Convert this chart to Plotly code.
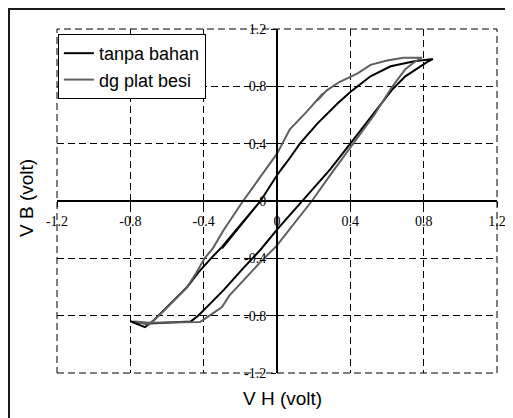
import plotly.graph_objects as go

# ---- data ----
tanpa_h = [0.04, 0.0, -0.09, -0.22, -0.30, -0.36, -0.43, -0.49, -0.56, -0.62, -0.67, -0.72, -0.80,
           -0.70, -0.58, -0.47, -0.43, -0.355, -0.29, -0.185, -0.09, 0.0, 0.14, 0.29, 0.40, 0.52, 0.63, 0.70, 0.78, 0.82, 0.85,
           0.75, 0.62, 0.51, 0.40, 0.33, 0.22, 0.125, 0.07, 0.0, -0.09, -0.22, -0.30]
tanpa_b = [0.25, 0.18, 0.0, -0.20, -0.32, -0.40, -0.50, -0.60, -0.69, -0.76, -0.83, -0.88, -0.84,
           -0.855, -0.845, -0.84, -0.80, -0.70, -0.62, -0.47, -0.34, -0.20, 0.0, 0.22, 0.40, 0.60, 0.78, 0.87, 0.94, 0.97, 0.99,
           0.975, 0.94, 0.87, 0.76, 0.68, 0.54, 0.40, 0.30, 0.18, 0.0, -0.20, -0.33]

besi_h = [0.25, 0.16, 0.07, 0.03, 0.0, -0.09, -0.185, -0.29, -0.35, -0.395, -0.44, -0.49, -0.56, -0.62, -0.70, -0.775,
          -0.70, -0.60, -0.47, -0.42, -0.38, -0.30, -0.26, -0.16, -0.093, 0.0, 0.19, 0.29, 0.415, 0.53, 0.63, 0.70, 0.75, 0.79,
          0.69, 0.60, 0.51, 0.44, 0.34, 0.27, 0.22]
besi_b = [0.75, 0.62, 0.50, 0.40, 0.33, 0.17, 0.0, -0.20, -0.33, -0.40, -0.50, -0.60, -0.69, -0.77, -0.865, -0.84,
          -0.85, -0.85, -0.85, -0.845, -0.81, -0.74, -0.66, -0.52, -0.43, -0.31, 0.0, 0.18, 0.40, 0.60, 0.80, 0.92, 0.97, 1.0,
          1.0, 0.98, 0.95, 0.89, 0.83, 0.77, 0.70]

tick_vals = [-1.2, -0.8, -0.4, 0, 0.4, 0.8, 1.2]
tick_text = ["-1.2", "-0.8", "-0.4", "0", "0.4", "0.8", "1.2"]

series_names = ["tanpa bahan", "dg plat besi"]
x_title = "V H (volt)"
y_title = "V B (volt)"

fig = go.Figure()
fig.add_trace(go.Scatter(x=tanpa_h, y=tanpa_b, mode="lines", name=series_names[0],
                         line=dict(color="#000000", width=2), legendgroup="a"))
fig.add_trace(go.Scatter(x=besi_h, y=besi_b, mode="lines", name=series_names[1],
                         line=dict(color="#5f5f5f", width=2), legendgroup="b"))

axis_common = dict(
    range=[-1.2, 1.2], tickvals=tick_vals, ticktext=tick_text,
    showgrid=True, gridcolor="#000000", gridwidth=1, griddash="7px,4px",
    zeroline=False, showline=True, linecolor="#000000", linewidth=2,
    ticks="outside", ticklen=5, tickwidth=1, tickcolor="#000000",
    tickfont=dict(family="Liberation Serif", size=14, color="#000000"),
    anchor="free", position=0.5, fixedrange=True, automargin=False,
)
fig.update_xaxes(**axis_common, ticklabelstandoff=2)
fig.update_yaxes(**axis_common, ticklabelstandoff=2)

# page has an 8px body margin: figure origin is at page (8, 8)
PW, PH = 440, 344  # plot area size in px
fig.update_layout(
    template="none",
    width=505, height=410,
    margin=dict(l=49, r=16, t=21, b=45, autoexpand=False),
    paper_bgcolor="white", plot_bgcolor="white",
    showlegend=True,
    legend=dict(x=0.002, y=0.9855, xanchor="left", yanchor="top",
                bgcolor="white", bordercolor="#000000", borderwidth=1,
                font=dict(family="Liberation Sans", size=18, color="#000000"),
                tracegroupgap=0, itemwidth=30),
    annotations=[
        dict(text=x_title, xref="paper", yref="paper", x=(282 - 57) / PW, y=(373 - 399) / PH,
             showarrow=False, xanchor="center", yanchor="middle",
             font=dict(family="Liberation Sans", size=19, color="#000000")),
        dict(text=y_title, xref="paper", yref="paper", x=(26 - 57) / PW, y=(373 - 198) / PH,
             showarrow=False, xanchor="center", yanchor="middle", textangle=-90,
             font=dict(family="Liberation Sans", size=19, color="#000000")),
    ],
    shapes=[
        dict(type="rect", xref="paper", yref="paper",
             x0=(9 - 57) / PW, x1=(525 - 57) / PW, y0=(373 - 430) / PH, y1=(373 - 9) / PH,
             line=dict(color="#1a1a1a", width=2), layer="below"),
        dict(type="rect", xref="paper", yref="paper", x0=0, x1=1, y0=0, y1=1,
             line=dict(color="#000000", width=1, dash="7px,4px"), layer="below"),
    ],
)

fig.write_html("out.html")
